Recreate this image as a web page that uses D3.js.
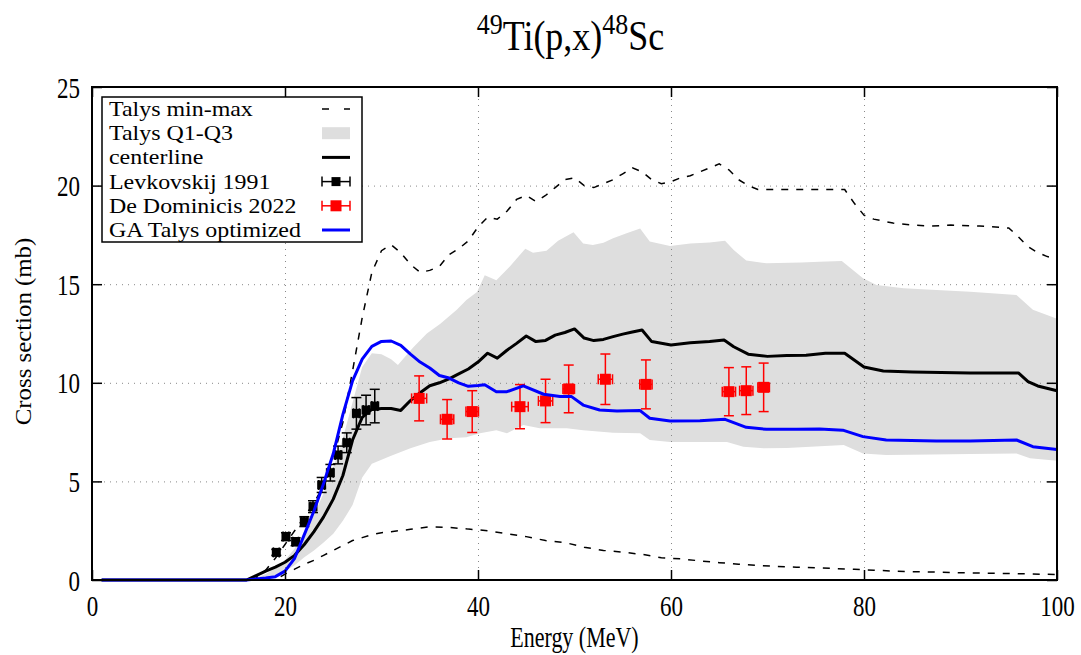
<!DOCTYPE html>
<html>
<head>
<meta charset="utf-8">
<script src="https://cdn.jsdelivr.net/npm/d3@7"></script>
<style>
  body { margin: 0; background: #fff; }
</style>
</head>
<body>
<script>
// Talys band and curves, [energy MeV, cross section mb]
const talysMax = [[1,0],[16,0],[17,0.1],[18,0.5],[19,1.1],[20,1.8],[21,2.5],[22,3.2],[23,3.9],[24,4.8],[25,6.2],[26,8.0],[27,10.6],[28,13.3],[29,15.6],[30,16.7],[31,17.0],[32,16.6],[33,16.0],[34,15.6],[35,15.7],[36,15.9],[37,16.5],[38,16.8],[39,17.2],[40,17.9],[41,18.4],[42,18.3],[43,18.7],[44,19.3],[45,19.5],[46,19.2],[47,19.5],[48,19.9],[49,20.3],[50,20.4],[51,20.0],[52,19.9],[53,20.1],[54,20.3],[55,20.6],[56,20.9],[57,20.7],[58,20.3],[59,20.1],[60,20.2],[61,20.4],[62,20.5],[63,20.7],[64,20.9],[65,21.1],[66,20.8],[67,20.3],[68,20.0],[69,19.8],[72,19.8],[75,19.8],[78,19.8],[79,19.1],[80,18.5],[81,18.3],[83,18.1],[85,18.0],[87,17.95],[89,18.0],[92,17.95],[95,17.85],[96,17.4],[97,16.9],[98,16.6],[99,16.4],[100,16.3]]
const talysMin = [[1,0],[19,0],[20,0.3],[21,0.55],[22,0.8],[23,1.0],[24,1.25],[25,1.5],[26,1.75],[27,2.0],[28,2.15],[29,2.3],[30,2.4],[31,2.45],[33,2.57],[35,2.7],[37,2.67],[39,2.58],[40,2.55],[41,2.5],[43,2.35],[45,2.2],[47,2.0],[49,1.9],[51,1.66],[53,1.5],[55,1.41],[57,1.3],[59,1.13],[61,1.07],[63,0.97],[65,0.88],[67,0.8],[69,0.74],[71,0.69],[73,0.65],[75,0.62],[77,0.58],[79,0.54],[81,0.5],[83,0.45],[85,0.42],[87,0.41],[89,0.38],[91,0.36],[93,0.34],[95,0.33],[97,0.31],[99,0.29],[100,0.28]]
const talysQ3 = [[1,0],[16,0],[17,0.1],[18,0.3],[19,0.6],[20,1.0],[21,1.6],[22,2.4],[23,3.3],[24,4.4],[25,5.7],[26,7.2],[27,9.0],[28,10.8],[29,11.5],[30,11.45],[31,11.2],[31.7,10.9],[33.3,11.8],[34.7,12.5],[36.1,13.0],[37.8,13.7],[38.8,14.2],[39.9,14.6],[40.7,15.45],[41.9,15.2],[43.3,15.9],[44.9,16.8],[45.7,16.6],[47.1,16.7],[48.3,17.2],[49.9,17.63],[50.9,17.07],[51.9,16.99],[53,17.1],[54,17.33],[55.4,17.58],[56.8,17.83],[57.8,17.16],[59.9,16.94],[62,17.07],[64,17.12],[65.6,17.2],[66.5,16.73],[67.8,16.2],[69.9,16.06],[73.5,16.1],[75.4,16.14],[77.7,16.18],[79.9,15.3],[81.3,14.96],[84.1,14.8],[87.5,14.7],[91,14.62],[95.8,14.45],[97.5,13.7],[100,13.25]]
const talysQ1 = [[1,0],[17,0],[18,0.1],[19,0.25],[20,0.45],[21,0.75],[22,1.15],[23,1.5],[24,1.9],[25,2.35],[26,3.0],[27,3.8],[28,5.2],[29,5.9],[30,6.1],[31,6.3],[33,6.68],[35,7.0],[37,7.19],[38.8,7.24],[40.2,7.44],[41.9,7.6],[43,7.44],[44.7,7.86],[46.4,7.69],[49.2,7.69],[50.9,7.6],[54,7.47],[56.8,7.44],[57.8,7.1],[59.9,7.0],[65.8,7.0],[67.5,6.76],[69.6,6.68],[72,6.7],[77.9,6.85],[79.9,6.42],[82.3,6.34],[87,6.37],[91,6.39],[95.8,6.42],[97.2,6.17],[100,6.05]]
const centerline = [[1,0],[16,0],[17,0.22],[18,0.45],[19,0.65],[20,0.9],[21,1.25],[22,1.8],[23,2.45],[24,3.2],[25,4.1],[26,5.3],[27,7.1],[28,8.25],[29,8.65],[30,8.7],[31,8.7],[32,8.6],[33,9.1],[34,9.5],[35,9.85],[36,10.0],[37,10.2],[38,10.45],[39,10.7],[40,11.05],[41,11.5],[42,11.25],[43,11.65],[44,12.0],[45,12.37],[46,12.09],[47,12.15],[48,12.42],[49,12.55],[50,12.73],[51,12.27],[52,12.14],[53,12.2],[54,12.34],[55,12.47],[56,12.58],[57,12.68],[58,12.09],[60,11.92],[62,12.03],[64,12.09],[65.5,12.17],[66.5,11.83],[68,11.45],[70,11.34],[72,11.38],[74,11.4],[76,11.5],[78,11.5],[80,10.8],[82,10.6],[85,10.55],[88,10.52],[91,10.5],[94,10.5],[96,10.5],[97,10.06],[98,9.84],[100,9.6]]
const gaOptimized = [[1,0],[16,0],[17,0.05],[18,0.1],[19,0.17],[20,0.45],[21,1.1],[22,2.3],[23,3.5],[24,4.9],[25,6.4],[26,8.4],[27,10.1],[28,11.2],[29,11.85],[30,12.1],[31,12.12],[32,11.9],[33,11.45],[34,11.05],[35,10.75],[36,10.37],[37,10.24],[38,10.0],[39,9.82],[40,9.86],[40.7,9.9],[41.9,9.55],[43,9.55],[44.7,9.84],[46.8,9.42],[48.5,9.3],[49.7,9.3],[50.9,8.87],[52.6,8.62],[54.4,8.57],[56.8,8.59],[57.8,8.2],[59.9,8.06],[63,8.08],[65.6,8.15],[67.8,7.74],[69.9,7.64],[73,7.64],[75.4,7.66],[77.8,7.6],[79.9,7.27],[82.3,7.1],[87.5,7.05],[91,7.05],[95.8,7.1],[97.5,6.76],[100,6.62]]

// experimental data
const levkE   = [19.1, 20.1, 21.1, 22.0, 22.9, 23.8, 24.7, 25.5, 26.4, 27.4, 28.4, 29.3]
const levkY   = [1.4, 2.2, 1.94, 2.96, 3.72, 4.82, 5.44, 6.34, 6.96, 8.45, 8.62, 8.82]
const levkErr = [0.15, 0.2, 0.2, 0.25, 0.3, 0.38, 0.42, 0.45, 0.5, 0.8, 0.75, 0.85]
const levkDx  = [0.3, 0.3, 0.3, 0.3, 0.3, 0.3, 0.3, 0.3, 0.3, 0.3, 0.3, 0.3]

const domE   = [33.9, 36.8, 39.4, 44.35, 47.0, 49.4, 53.2, 57.4, 66.0, 67.8, 69.6]
const domY   = [9.21, 8.15, 8.54, 8.79, 9.08, 9.69, 10.18, 9.92, 9.55, 9.6, 9.77]
const domErr = [1.14, 1.0, 1.06, 1.12, 1.1, 1.21, 1.28, 1.24, 1.22, 1.21, 1.23]
const domDx  = [0.78, 0.69, 0.65, 0.86, 0.74, 0.6, 0.74, 0.64, 0.69, 0.69, 0.6]

const xTicks = [0, 20, 40, 60, 80, 100]
const yTicks = [0, 5, 10, 15, 20, 25]

const legendLabels = ["Talys min-max", "Talys Q1-Q3", "centerline", "Levkovskij 1991", "De Dominicis 2022", "GA Talys optimized"]

const FONT = "'Liberation Serif'"
const STRETCH = 1.3   // text in the original is drawn taller than wide

// scale a text element around its own anchor point
function stretch(sel, sy, sx = 1) {
  sel.each(function() {
    const t = d3.select(this)
    const x = +t.attr("x") || 0
    const y = +t.attr("y") || 0
    t.attr("transform", `translate(${x},${y}) scale(${sx},${sy}) translate(${-x},${-y})`)
  })
}

function drawChart() {
  let dimensions = {
    width: 1081,
    height: 655,
    margin: { top: 87, right: 24, bottom: 75, left: 92 },
  }
  dimensions.boundedWidth = dimensions.width - dimensions.margin.left - dimensions.margin.right
  dimensions.boundedHeight = dimensions.height - dimensions.margin.top - dimensions.margin.bottom

  const wrapper = d3.select("body")
    .append("svg")
      .attr("width", dimensions.width)
      .attr("height", dimensions.height)
      .style("font-family", FONT)

  const bounds = wrapper.append("g")
    .attr("transform", `translate(${dimensions.margin.left},${dimensions.margin.top})`)

  const xScale = d3.scaleLinear()
    .domain([0, 100])
    .range([0, dimensions.boundedWidth])
  const yScale = d3.scaleLinear()
    .domain([0, 25])
    .range([dimensions.boundedHeight, 0])

  const line = d3.line()
    .x(d => xScale(d[0]))
    .y(d => yScale(d[1]))

  // Q1-Q3 band
  bounds.append("path")
    .attr("d", line(talysQ3.concat(talysQ1.slice().reverse())) + "Z")
    .attr("fill", "#dedede")
    .attr("stroke", "none")

  // grid
  const gridX = bounds.append("g")
    .call(d3.axisBottom(xScale).tickValues(xTicks.slice(1, -1)).tickSize(dimensions.boundedHeight).tickFormat(""))
  const gridY = bounds.append("g")
    .call(d3.axisLeft(yScale).tickValues(yTicks.slice(1, -1)).tickSize(-dimensions.boundedWidth).tickFormat(""))
  ;[gridX, gridY].forEach(g => {
    g.select(".domain").remove()
    g.selectAll("line")
      .attr("stroke", "#888")
      .attr("stroke-width", 1)
      .attr("stroke-dasharray", "1,5")
  })

  // curves
  bounds.append("path")
    .attr("d", line(talysMax))
    .attr("fill", "none").attr("stroke", "#000")
    .attr("stroke-width", 1.5).attr("stroke-dasharray", "7,8")
  bounds.append("path")
    .attr("d", line(talysMin))
    .attr("fill", "none").attr("stroke", "#000")
    .attr("stroke-width", 1.5).attr("stroke-dasharray", "7,8")
  bounds.append("path")
    .attr("d", line(centerline))
    .attr("fill", "none").attr("stroke", "#000")
    .attr("stroke-width", 3).attr("stroke-linejoin", "round")

  // error bar points
  function drawPoints(xs, ys, errs, dxs, color, size, cls) {
    const g = bounds.append("g").attr("class", cls)
    const pts = g.selectAll("g")
      .data(xs.map((x, i) => ({ x, y: ys[i], e: errs[i], dx: dxs[i] })))
      .join("g")
    const cap = 5
    pts.append("line")
      .attr("x1", d => xScale(d.x)).attr("x2", d => xScale(d.x))
      .attr("y1", d => yScale(d.y - d.e)).attr("y2", d => yScale(d.y + d.e))
    pts.append("line")
      .attr("x1", d => xScale(d.x) - cap).attr("x2", d => xScale(d.x) + cap)
      .attr("y1", d => yScale(d.y - d.e)).attr("y2", d => yScale(d.y - d.e))
    pts.append("line")
      .attr("x1", d => xScale(d.x) - cap).attr("x2", d => xScale(d.x) + cap)
      .attr("y1", d => yScale(d.y + d.e)).attr("y2", d => yScale(d.y + d.e))
    pts.append("line")
      .attr("x1", d => xScale(d.x - d.dx)).attr("x2", d => xScale(d.x + d.dx))
      .attr("y1", d => yScale(d.y)).attr("y2", d => yScale(d.y))
    pts.append("line")
      .attr("x1", d => xScale(d.x - d.dx)).attr("x2", d => xScale(d.x - d.dx))
      .attr("y1", d => yScale(d.y) - cap).attr("y2", d => yScale(d.y) + cap)
    pts.append("line")
      .attr("x1", d => xScale(d.x + d.dx)).attr("x2", d => xScale(d.x + d.dx))
      .attr("y1", d => yScale(d.y) - cap).attr("y2", d => yScale(d.y) + cap)
    pts.selectAll("line").attr("stroke", color).attr("stroke-width", 1.5)
    pts.append("rect")
      .attr("x", d => xScale(d.x) - size / 2)
      .attr("y", d => yScale(d.y) - size / 2)
      .attr("width", size).attr("height", size)
      .attr("fill", color)
  }
  drawPoints(levkE, levkY, levkErr, levkDx, "#000", 9, "levkovskij")
  drawPoints(domE, domY, domErr, domDx, "#f00", 11, "dedominicis")

  bounds.append("path")
    .attr("d", line(gaOptimized))
    .attr("fill", "none").attr("stroke", "#00f")
    .attr("stroke-width", 3).attr("stroke-linejoin", "round")

  // axes with inward ticks on all sides
  const tickLen = 10
  const xAxis = bounds.append("g")
    .attr("transform", `translate(0,${dimensions.boundedHeight})`)
    .call(d3.axisBottom(xScale).tickValues(xTicks).tickSizeInner(-tickLen).tickSizeOuter(0))
  const yAxis = bounds.append("g")
    .call(d3.axisLeft(yScale).tickValues(yTicks).tickSizeInner(-tickLen).tickSizeOuter(0))
  const xTop = bounds.append("g")
    .call(d3.axisTop(xScale).tickValues(xTicks).tickSizeInner(-tickLen).tickSizeOuter(0).tickFormat(""))
  const yRight = bounds.append("g")
    .attr("transform", `translate(${dimensions.boundedWidth},0)`)
    .call(d3.axisRight(yScale).tickValues(yTicks).tickSizeInner(-tickLen).tickSizeOuter(0).tickFormat(""))
  ;[xAxis, yAxis, xTop, yRight].forEach(g => {
    g.attr("font-family", null).attr("font-size", null)
    g.select(".domain").remove()
    g.selectAll("line").attr("stroke", "#000").attr("stroke-width", 1.5)
    g.selectAll("text").attr("fill", "#000").style("font-size", "23px").attr("dy", null)
  })
  xAxis.selectAll("text").attr("y", 36)
  yAxis.selectAll("text").attr("x", -12).attr("y", 10)
  stretch(xAxis.selectAll("text"), STRETCH)
  stretch(yAxis.selectAll("text"), STRETCH)

  // border
  bounds.append("rect")
    .attr("width", dimensions.boundedWidth)
    .attr("height", dimensions.boundedHeight)
    .attr("fill", "none")
    .attr("stroke", "#000")
    .attr("stroke-width", 2)

  // axis labels
  const xLabel = wrapper.append("text")
    .attr("x", dimensions.margin.left + dimensions.boundedWidth / 2)
    .attr("y", 647)
    .attr("text-anchor", "middle")
    .style("font-size", "22px")
    .text("Energy (MeV)")
  stretch(xLabel, STRETCH)
  wrapper.append("text")
    .attr("transform", `translate(31,${dimensions.margin.top + dimensions.boundedHeight / 2 - 2}) rotate(-90) scale(1.08,1)`)
    .attr("text-anchor", "middle")
    .style("font-size", "23px")
    .text("Cross section (mb)")

  // title
  const title = wrapper.append("text")
    .attr("x", dimensions.margin.left + dimensions.boundedWidth / 2 - 4)
    .attr("y", 50)
    .attr("text-anchor", "middle")
    .style("font-size", "36px")
  title.append("tspan").attr("dy", -14).style("font-size", "26px").text("49")
  title.append("tspan").attr("dy", 14).text("Ti(p,x)")
  title.append("tspan").attr("dy", -14).style("font-size", "26px").text("48")
  title.append("tspan").attr("dy", 14).text("Sc")
  stretch(title, 1.15)

  // legend
  const legend = wrapper.append("g")
  legend.append("rect")
    .attr("x", 102).attr("y", 97)
    .attr("width", 260).attr("height", 145)
    .attr("fill", "#fff")
    .attr("stroke", "#000")
    .attr("stroke-width", 1.5)
  const rowY = i => 109 + i * 24.2
  const sx1 = 322, sx2 = 350
  legendLabels.forEach((label, i) => {
    const t = legend.append("text")
      .attr("x", 109).attr("y", rowY(i) + 7)
      .style("font-size", "21px")
      .text(label)
    stretch(t, 1, 1.14)
  })
  legend.append("line")
    .attr("x1", sx1).attr("x2", sx2).attr("y1", rowY(0)).attr("y2", rowY(0))
    .attr("stroke", "#000").attr("stroke-width", 1.5).attr("stroke-dasharray", "7,15")
  legend.append("rect")
    .attr("x", sx1).attr("y", rowY(1) - 6).attr("width", sx2 - sx1).attr("height", 12)
    .attr("fill", "#dedede")
  legend.append("line")
    .attr("x1", sx1).attr("x2", sx2).attr("y1", rowY(2)).attr("y2", rowY(2))
    .attr("stroke", "#000").attr("stroke-width", 3)
  ;[[3, "#000", 9], [4, "#f00", 11]].forEach(([i, c, s]) => {
    const y = rowY(i)
    legend.append("line").attr("x1", sx1).attr("x2", sx2).attr("y1", y).attr("y2", y)
      .attr("stroke", c).attr("stroke-width", 1.5)
    legend.append("line").attr("x1", sx1).attr("x2", sx1).attr("y1", y - 5).attr("y2", y + 5)
      .attr("stroke", c).attr("stroke-width", 1.5)
    legend.append("line").attr("x1", sx2).attr("x2", sx2).attr("y1", y - 5).attr("y2", y + 5)
      .attr("stroke", c).attr("stroke-width", 1.5)
    legend.append("rect").attr("x", (sx1 + sx2) / 2 - s / 2).attr("y", y - s / 2)
      .attr("width", s).attr("height", s).attr("fill", c)
  })
  legend.append("line")
    .attr("x1", sx1).attr("x2", sx2).attr("y1", rowY(5)).attr("y2", rowY(5))
    .attr("stroke", "#00f").attr("stroke-width", 3)
}
drawChart()
</script>
</body>
</html>
